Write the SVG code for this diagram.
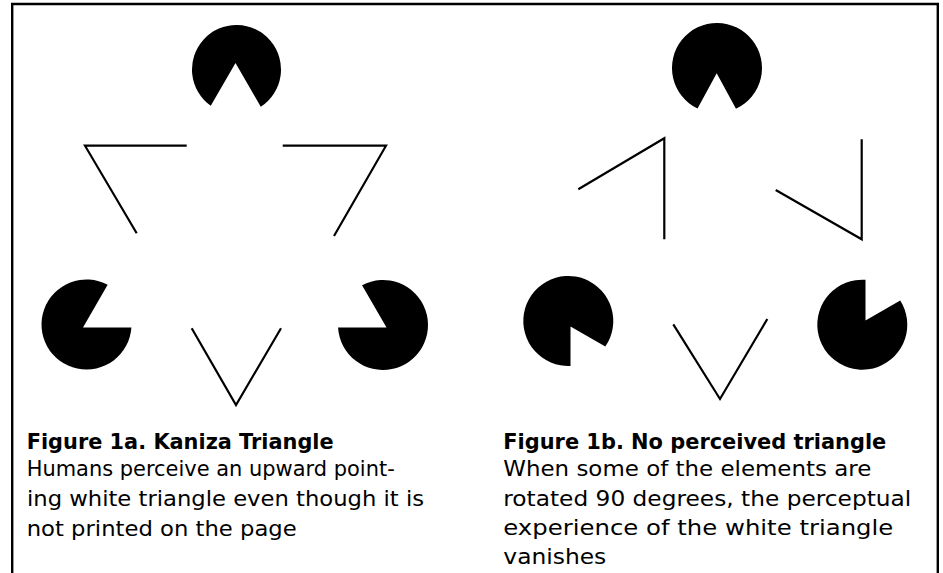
<svg xmlns="http://www.w3.org/2000/svg" width="943" height="573" viewBox="0 0 943 573">
<style>
.frame{fill:none;stroke:#000;stroke-width:2.4}
.pac{fill:#000;stroke:none}
.ln{fill:none;stroke:#000;stroke-width:2.2;stroke-linejoin:miter;stroke-miterlimit:10}
.title{font-family:"DejaVu Sans","Liberation Sans",sans-serif;font-weight:bold;font-size:21px;fill:#000}
.body{font-family:"DejaVu Sans","Liberation Sans",sans-serif;font-size:21.5px;fill:#000}
</style>
<rect width="943" height="573" fill="#fff"/>
<path class="frame" d="M12.2,573 V4 H937.8 V573"/>

<g id="fig1a">
  <g id="a-pac-top"><path class="pac" d="M235.5,63 L260.78,106.79 A44.5,44.5 0 1 0 210.78,105.82 Z"/></g>
  <g id="a-pac-left"><path class="pac" d="M83,327.5 L107.65,284.8 A45,45 0 1 0 131.4,327.5 Z"/></g>
  <g id="a-pac-right"><path class="pac" d="M386.5,327.5 L362.06,285.17 A45,45 0 1 1 338.07,327.5 Z"/></g>
  <g id="a-lines">
    <polyline class="ln" points="186.7,145.7 85,145.7 136.7,233.3"/>
    <polyline class="ln" points="282.7,145.7 386,145.7 334,236"/>
    <polyline class="ln" points="191.7,328.3 236,405 281,328.3"/>
  </g>
  <g id="a-caption">
    <text class="title" x="26.7" y="449" textLength="307" lengthAdjust="spacingAndGlyphs">Figure 1a. Kaniza Triangle</text>
    <text class="body" x="26.7" y="476" textLength="368" lengthAdjust="spacingAndGlyphs">Humans perceive an upward point-</text>
    <text class="body" x="27" y="506" textLength="397" lengthAdjust="spacingAndGlyphs">ing white triangle even though it is</text>
    <text class="body" x="26.7" y="536" textLength="270" lengthAdjust="spacingAndGlyphs">not printed on the page</text>
  </g>
</g>

<g id="fig1b">
  <g id="b-pac-top"><path class="pac" d="M716.7,73.3 L735.97,108.8 A45,45 0 1 0 697.55,108.58 Z"/></g>
  <g id="b-pac-left"><path class="pac" d="M570.5,326.5 L605.31,346.6 A45,45 0 1 0 570.5,365.95 Z"/></g>
  <g id="b-pac-right"><path class="pac" d="M865.5,320.5 L865.5,279.81 A45,45 0 1 0 900.22,300.46 Z"/></g>
  <g id="b-lines">
    <polyline class="ln" points="578.3,189.3 664.3,138.3 664.3,239.3"/>
    <polyline class="ln" points="861.7,139.3 861.7,239.3 775.7,190"/>
    <polyline class="ln" points="673.3,324.3 720,399 767.3,319"/>
  </g>
  <g id="b-caption">
    <text class="title" x="503.3" y="449" textLength="383" lengthAdjust="spacingAndGlyphs">Figure 1b. No perceived triangle</text>
    <text class="body" x="503.3" y="476" textLength="368" lengthAdjust="spacingAndGlyphs">When some of the elements are</text>
    <text class="body" x="503.3" y="506" textLength="408" lengthAdjust="spacingAndGlyphs">rotated 90 degrees, the perceptual</text>
    <text class="body" x="503.3" y="535" textLength="390" lengthAdjust="spacingAndGlyphs">experience of the white triangle</text>
    <text class="body" x="503.3" y="564" textLength="103" lengthAdjust="spacingAndGlyphs">vanishes</text>
  </g>
</g>
</svg>
